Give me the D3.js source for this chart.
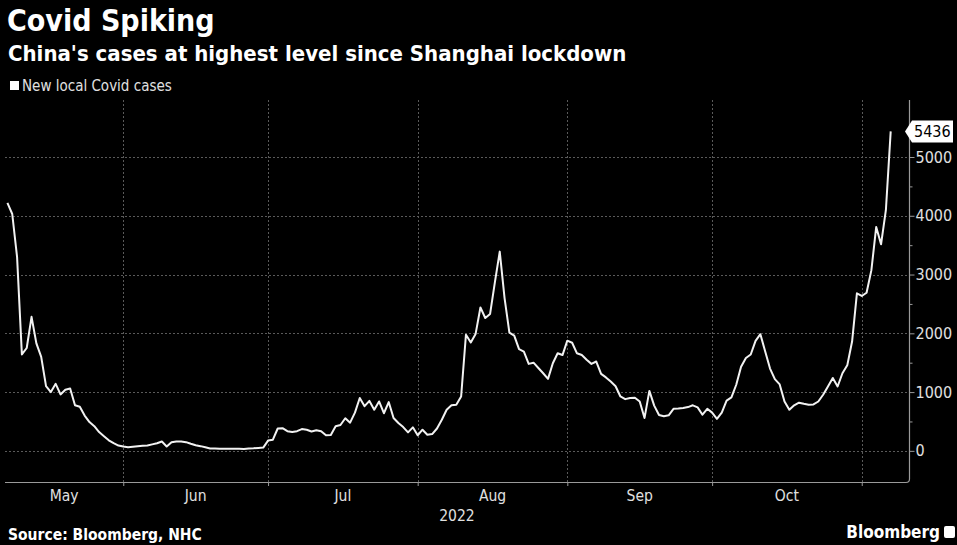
<!DOCTYPE html>
<html>
<head>
<meta charset="utf-8">
<script src="https://cdn.jsdelivr.net/npm/d3@7"></script>
<style>
  html, body { margin: 0; padding: 0; background: #000; }
  svg { display: block; font-family: "DejaVu Sans Condensed", "DejaVu Sans", sans-serif; }
</style>
</head>
<body>
<div id="chart"></div>
<script>
// New local Covid cases in China, one value per day from startDate
const startDate = "2022-05-08";
const cases = [
  4220, 4030, 3300, 1640, 1750, 2280, 1830, 1600, 1100, 1000,
  1140, 960, 1040, 1060, 775, 750, 600, 490, 420, 320,
  250, 180, 130, 90, 73, 61, 70, 78, 85, 90,
  110, 130, 158, 73, 146, 158, 160, 148, 120, 95,
  80, 60, 40, 38, 36, 36, 36, 36, 34, 32,
  40, 44, 50, 56, 175, 190, 380, 385, 335, 320,
  335, 370, 360, 330, 350, 335, 265, 268, 418, 440,
  555, 480, 650, 900, 760, 850, 700, 840, 640, 830,
  560, 475, 405, 315, 400, 265, 360, 275, 285, 380,
  530, 700, 775, 785, 925, 1975, 1845, 1990, 2440, 2260,
  2330, 2870, 3390, 2600, 2010, 1960, 1730, 1690, 1480, 1500,
  1410, 1320, 1225, 1490, 1660, 1630, 1875, 1840, 1660, 1630,
  1550, 1480, 1520, 1310, 1250, 1180, 1100, 925, 880, 900,
  905, 840, 560, 1020, 770, 610, 590, 605, 715, 720,
  730, 745, 775, 740, 615, 715, 650, 545, 650, 855,
  910, 1125, 1430, 1580, 1640, 1870, 1985, 1690, 1400, 1220,
  1130, 840, 700, 775, 820, 800, 785, 790, 840, 955,
  1095, 1240, 1095, 1320, 1455, 1860, 2680, 2635, 2690, 3075,
  3810, 3515, 4095, 5436
];
const yTicks = [0, 1000, 2000, 3000, 4000, 5000];
const monthLabels = ["May", "Jun", "Jul", "Aug", "Sep", "Oct"];
const yearLabel = "2022";

const title = "Covid Spiking";
const subtitle = "China's cases at highest level since Shanghai lockdown";
const legendLabel = "New local Covid cases";
const source = "Source: Bloomberg, NHC";

const W = 957, H = 545;
const plot = { left: 5, right: 909, top: 100, bottom: 482 };

const parse = d3.timeParse("%Y-%m-%d");
const first = parse(startDate);
const data = cases.map((v, i) => ({ date: d3.timeDay.offset(first, i), value: v }));

const svg = d3.select("#chart").append("svg")
  .attr("width", W).attr("height", H);

svg.append("rect").attr("width", W).attr("height", H).attr("fill", "#000");

// x runs half a day before the first point to a few days after the last
const x = d3.scaleTime()
  .domain([d3.timeHour.offset(first, -12), d3.timeHour.offset(data[data.length - 1].date, 91)])
  .range([plot.left, plot.right]);

const y = d3.scaleLinear()
  .domain([-530, 5970])
  .range([plot.bottom, plot.top]);

const monthStarts = d3.timeMonth.range(d3.timeMonth.ceil(x.domain()[0]), x.domain()[1]);

// grid
const grid = svg.append("g").attr("stroke", "#5a5a5a").attr("stroke-width", 1)
  .attr("stroke-dasharray", "2,2");
grid.selectAll("line.h").data(yTicks).join("line")
  .attr("class", "h")
  .attr("x1", plot.left).attr("x2", plot.right)
  .attr("y1", d => Math.round(y(d)) + 0.5).attr("y2", d => Math.round(y(d)) + 0.5);
grid.selectAll("line.v").data(monthStarts).join("line")
  .attr("class", "v")
  .attr("x1", d => Math.round(x(d)) + 0.5).attr("x2", d => Math.round(x(d)) + 0.5)
  .attr("y1", plot.top).attr("y2", plot.bottom);

// axis frame: bottom and right, with a small rounded corner
svg.append("path")
  .attr("d", `M${plot.left},${plot.bottom + 0.5} H${plot.right - 3} Q${plot.right + 0.5},${plot.bottom + 0.5} ${plot.right + 0.5},${plot.bottom - 3} V${plot.top}`)
  .attr("fill", "none").attr("stroke", "#9a9a9a").attr("stroke-width", 1.2);

// right axis
const yAxis = d3.axisRight(y)
  .tickValues(d3.range(0, 6000, 500))
  .tickSize(5)
  .tickFormat(d => yTicks.includes(d) ? d : "");
const gy = svg.append("g")
  .attr("transform", `translate(${plot.right + 0.5},0)`)
  .call(yAxis);
gy.select(".domain").remove();
gy.selectAll(".tick line").attr("stroke", "#9a9a9a")
  .attr("x2", d => yTicks.includes(d) ? 5 : 3);
gy.selectAll(".tick text")
  .attr("x", 6)
  .attr("fill", "#e0e0e0")
  .attr("font-size", 16)
  .attr("font-family", "DejaVu Sans Condensed, DejaVu Sans, sans-serif");

// bottom axis ticks at month starts
const xAxis = d3.axisBottom(x).tickValues(monthStarts).tickSize(4).tickFormat("");
const gx = svg.append("g")
  .attr("transform", `translate(0,${plot.bottom})`)
  .call(xAxis);
gx.select(".domain").remove();
gx.selectAll(".tick line").attr("stroke", "#9a9a9a");

// month labels centred on the visible part of each month
const labelG = svg.append("g")
  .attr("fill", "#e0e0e0").attr("font-size", 15.5).attr("text-anchor", "middle");
monthLabels.forEach((m, i) => {
  const s = d3.timeMonth.offset(d3.timeMonth.floor(first), i);
  const e = d3.timeMonth.offset(s, 1);
  const a = Math.max(x(s), plot.left), b = Math.min(x(e), plot.right);
  labelG.append("text").attr("x", (a + b) / 2).attr("y", 501).text(m);
});
labelG.append("text").attr("x", (plot.left + plot.right) / 2).attr("y", 521).text(yearLabel);

// line
svg.append("path")
  .datum(data)
  .attr("fill", "none")
  .attr("stroke", "#f2f2f2")
  .attr("stroke-width", 2)
  .attr("stroke-linejoin", "round")
  .attr("d", d3.line().x(d => x(d.date)).y(d => y(d.value)));

// last value callout
const last = data[data.length - 1];
const ly = y(last.value);
const callout = svg.append("g").attr("transform", `translate(${plot.right - 4},${ly})`);
callout.append("path")
  .attr("d", "M0,0 L7,-11 H48 V11 H7 Z")
  .attr("fill", "#fff");
callout.append("text")
  .attr("x", 9).attr("y", 5.5)
  .attr("fill", "#000").attr("font-size", 16)
  .text(last.value);

// titles
svg.append("text").attr("x", 7).attr("y", 31)
  .attr("fill", "#fff").attr("font-size", 30).attr("font-weight", "bold")
  .text(title);
svg.append("text").attr("x", 8).attr("y", 61)
  .attr("fill", "#fff").attr("font-size", 22).attr("font-weight", "bold")
  .text(subtitle);

// legend
svg.append("rect").attr("x", 10).attr("y", 81).attr("width", 9).attr("height", 9).attr("fill", "#fff");
svg.append("text").attr("x", 22).attr("y", 91)
  .attr("fill", "#e0e0e0").attr("font-size", 15)
  .text(legendLabel);

// footer
svg.append("text").attr("x", 8).attr("y", 540)
  .attr("fill", "#fff").attr("font-size", 15.5).attr("font-weight", "bold")
  .text(source);
svg.append("text").attr("x", 940).attr("y", 538)
  .attr("fill", "#fff").attr("font-size", 17).attr("font-weight", "bold")
  .attr("text-anchor", "end")
  .text("Bloomberg");
svg.append("rect").attr("x", 944).attr("y", 526).attr("width", 11).attr("height", 12)
  .attr("rx", 2).attr("fill", "#fff");
</script>
</body>
</html>
